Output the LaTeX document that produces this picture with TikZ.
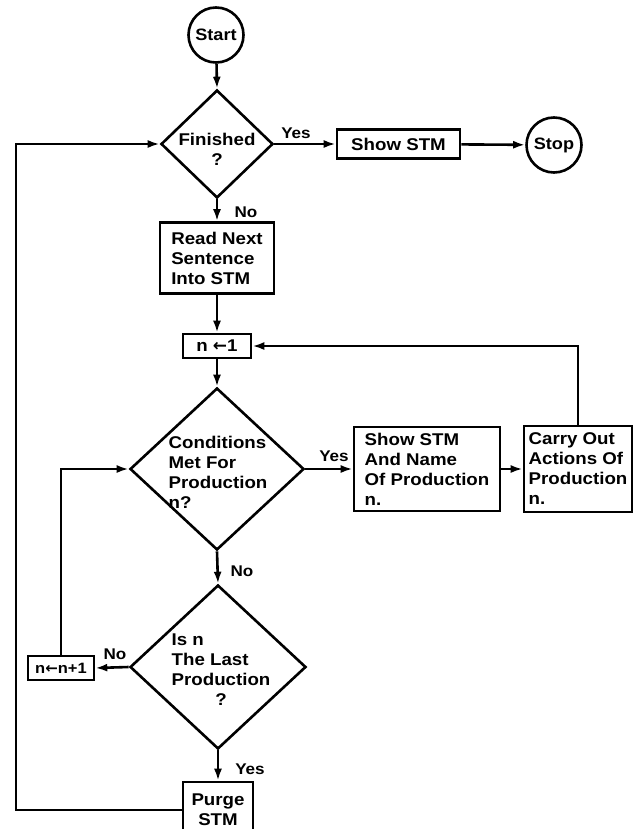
\documentclass[tikz,border=0pt]{standalone}
\usepackage{fontspec}
\newfontfamily\lf{Liberation Sans}[FakeStretch=1.1]
\newfontfamily\dv{DejaVu Sans}
\usetikzlibrary{shapes.geometric,arrows.meta}
\begin{document}
\begin{tikzpicture}[x=1pt,y=-1pt,line width=2.6pt,
  txt/.style={inner sep=0pt,font={\lf\bfseries\fontsize{17}{20}\selectfont},align=center},
  box/.style={draw,rectangle,inner sep=0pt,font={\lf\bfseries\fontsize{17}{20}\selectfont},align=left},
  circ/.style={draw,circle,minimum size=55pt,inner sep=0pt,font={\lf\bfseries\fontsize{16.5}{19}\selectfont}},
  dia/.style={draw,diamond,inner sep=0pt},
  lab/.style={inner sep=0pt,font={\lf\bfseries\fontsize{15.5}{18}\selectfont}},
  arr/.style={-{Latex[length=12pt,width=8pt]}}]
\useasboundingbox (0,0) rectangle (637,829);
\clip (0,0) rectangle (637,829);
\fill[white] (0,0) rectangle (637,829);

\node[circ] (start) at (216,35) {Start};
\node[dia,minimum width=112pt,minimum height=108pt] (fin) at (217,144) {};
\node[txt] (fint) at (217,149) {Finished\\?};
\node[box,align=center,minimum width=123pt,minimum height=29pt] (show) at (398.5,144) {Show STM};
\node[circ] (stop) at (554,145) {Stop};
\node[box,minimum width=114pt,minimum height=71pt] (read) at (217,258) {Read Next\\Sentence\\Into STM};
\node[box,minimum width=68pt,minimum height=24pt] (none) at (217,346) {n {\dv\bfseries ←}1};
\node[dia,minimum width=174pt,minimum height=162pt] (cond) at (217,469) {};
\node[txt,align=left] (condt) at (218,472) {Conditions\\Met For\\Production\\n?};
\node[box,minimum width=146pt,minimum height=84pt] (showname) at (427,469) {Show STM\\And Name\\Of Production\\n.};
\node[box,minimum width=108pt,minimum height=86pt] (carry) at (578,469) {Carry Out\\Actions Of\\Production\\n.};
\node[dia,minimum width=176pt,minimum height=164pt] (last) at (218,667) {};
\node[txt] (lastt) at (221,671) {\def\arraystretch{1}\begin{tabular}{@{}l@{}}Is n\\The Last\\Production\\\multicolumn{1}{@{}c@{}}{?}\end{tabular}};
\node[box,align=center,minimum width=66pt,minimum height=24pt,font={\lf\bfseries\fontsize{15}{18}\selectfont}] (nplus) at (61,668) {n{\dv\bfseries ←}n+1};
\node[box,align=center,minimum width=70pt,minimum height=56pt] (purge) at (218,810) {Purge\\STM};
\coordinate (lc) at (16,810);

\node[lab] (yes1) at (296,133) {Yes};
\node[lab] (no1) at (246,212) {No};
\node[lab] (yes2) at (334,456) {Yes};
\node[lab] (no2) at (242,571) {No};
\node[lab] (no3) at (115,654) {No};
\node[lab] (yes3) at (250,769) {Yes};

\draw[arr] (start) -- (fin.north);
\draw[arr] (fin.east) -- (show.west);
\draw[arr] (show) -- (stop);
\draw[arr] (fin.south) -- (read.north);
\draw[arr] (read) -- (none);
\draw[arr] (none) -- (cond.north);
\draw[arr] (cond.east) -- (showname.west);
\draw[arr] (showname.east) -- (carry.west);
\draw[arr] (carry.north) |- (none.east);
\draw[arr] (cond.south) -- (last.north);
\draw[arr] (last.west) -- (nplus.east);
\draw[arr] (nplus.north) |- (cond.west);
\draw[arr] (last.south) -- (purge.north);
\draw[arr] (purge.west) -- (lc) |- (fin.west);
\end{tikzpicture}
\end{document}
